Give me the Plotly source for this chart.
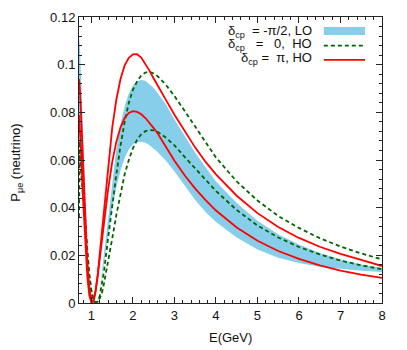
import plotly.graph_objects as go

# Energy grid (GeV)
E = [0.7, 0.72, 0.75, 0.8, 0.85, 0.9, 0.95, 1.0, 1.05, 1.1, 1.15, 1.2, 1.25, 1.3, 1.4, 1.5,
     1.6, 1.7, 1.8, 1.9, 2.0, 2.1, 2.2, 2.3, 2.4, 2.5, 2.6, 2.8, 3.0, 3.25, 3.5, 3.75,
     4.0, 4.5, 5.0, 5.5, 6.0, 6.5, 7.0, 7.5, 8.0]

# delta_cp = -pi/2, LO : band upper / lower edges
band_hi = [0.112, 0.108, 0.094, 0.068, 0.044, 0.024, 0.010, 0.003, 0.0005, 0.0, 0.0017, 0.0064, 0.013, 0.0202, 0.0364, 0.0517,
           0.0647, 0.0751, 0.0826, 0.0879, 0.0913, 0.0931, 0.0936, 0.0932, 0.0918, 0.0902, 0.0880, 0.0832, 0.0770, 0.0700, 0.0630, 0.0570,
           0.0510, 0.0420, 0.0345, 0.0288, 0.0245, 0.0210, 0.0183, 0.0162, 0.0147]
band_lo = [0.080, 0.076, 0.064, 0.045, 0.028, 0.014, 0.005, 0.001, 0.0, 0.0001, 0.002, 0.0059, 0.011, 0.0166, 0.0284, 0.0396,
           0.0486, 0.0556, 0.0609, 0.0644, 0.0665, 0.0675, 0.0677, 0.0672, 0.0662, 0.0648, 0.0632, 0.0596, 0.0552, 0.0492, 0.0432, 0.0382,
           0.0340, 0.0275, 0.0225, 0.0190, 0.0168, 0.0152, 0.0142, 0.0135, 0.0130]

# delta_cp = 0, HO : two dashed curves
green_hi = [0.036, 0.068, 0.062, 0.048, 0.034, 0.022, 0.012, 0.005, 0.0015, 0.0003, 0.0005, 0.003, 0.008, 0.013, 0.027, 0.041,
            0.054, 0.066, 0.076, 0.084, 0.0895, 0.0930, 0.0955, 0.0967, 0.0970, 0.0963, 0.0951, 0.0914, 0.0868, 0.0805, 0.0741, 0.0672,
            0.0610, 0.0510, 0.0430, 0.0365, 0.0315, 0.0272, 0.0237, 0.0208, 0.0183]
green_lo = [0.062, 0.060, 0.055, 0.043, 0.031, 0.020, 0.011, 0.0045, 0.0012, 0.0001, 0.0005, 0.002, 0.004, 0.008, 0.017, 0.027,
            0.037, 0.046, 0.054, 0.060, 0.065, 0.0685, 0.0708, 0.0721, 0.0726, 0.0724, 0.0717, 0.0693, 0.0661, 0.0612, 0.0565, 0.0518,
            0.0470, 0.0390, 0.0325, 0.0275, 0.0235, 0.0204, 0.0178, 0.0158, 0.0142]

# delta_cp = pi, HO : two solid curves
red_hi = [0.094, 0.090, 0.079, 0.057, 0.035, 0.017, 0.006, 0.0006, 0.0006, 0.0048, 0.0117, 0.0204, 0.030, 0.0397, 0.0581, 0.0735,
          0.0854, 0.0940, 0.0997, 0.1029, 0.1043, 0.1044, 0.1030, 0.1004, 0.0974, 0.0942, 0.0910, 0.0850, 0.0790, 0.0720, 0.0652, 0.0592,
          0.0540, 0.0450, 0.0377, 0.0319, 0.0273, 0.0236, 0.0206, 0.0181, 0.0155]
red_lo = [0.079, 0.074, 0.063, 0.043, 0.0246, 0.0111, 0.003, 0.0001, 0.0012, 0.0054, 0.0114, 0.0185, 0.026, 0.0336, 0.0475, 0.0591,
          0.0677, 0.0737, 0.0776, 0.0797, 0.0805, 0.0802, 0.0792, 0.0776, 0.0756, 0.0734, 0.0710, 0.0652, 0.0597, 0.0535, 0.0480, 0.0432,
          0.0388, 0.0317, 0.0261, 0.0218, 0.0185, 0.0158, 0.0136, 0.0119, 0.0105]

x_ticks = [1, 2, 3, 4, 5, 6, 7, 8]
y_ticks = [0, 0.02, 0.04, 0.06, 0.08, 0.1, 0.12]
y_tick_text = ["0", "0.02", "0.04", "0.06", "0.08", "0.1", "0.12"]

BLUE = "#87CEEB"
GREEN = "#006400"
RED = "#FF0000"
FONT = "Liberation Sans, Arial, Helvetica, sans-serif"

fig = go.Figure()
fig.add_trace(go.Scatter(x=E, y=band_lo, mode="lines", line=dict(width=0, color=BLUE),
                         showlegend=False, hoverinfo="skip"))
fig.add_trace(go.Scatter(x=E, y=band_hi, mode="lines", line=dict(width=0, color=BLUE),
                         fill="tonexty", fillcolor=BLUE, showlegend=False))
for ys in (green_hi, green_lo):
    fig.add_trace(go.Scatter(x=E, y=ys, mode="lines",
                             line=dict(color=GREEN, width=1.8, dash="4px,3px"), showlegend=False))
for ys in (red_hi, red_lo):
    fig.add_trace(go.Scatter(x=E, y=ys, mode="lines",
                             line=dict(color=RED, width=1.8), showlegend=False))

axis_common = dict(showline=True, linecolor="#222222", linewidth=1, mirror="allticks",
                   ticks="inside", tickcolor="#222222", ticklen=6, tickwidth=1,
                   showgrid=False, zeroline=False, automargin=False,
                   tickfont=dict(family=FONT, size=13, color="#111111"))

fig.update_xaxes(range=[0.7, 8], tickvals=x_ticks,
                 minor=dict(dtick=0.2, tick0=0, ticks="inside", ticklen=3, tickcolor="#222222", showgrid=False),
                 **axis_common)
fig.update_yaxes(range=[0, 0.12], tickvals=y_ticks, ticktext=y_tick_text,
                 minor=dict(dtick=0.004, tick0=0, ticks="inside", ticklen=3, tickcolor="#222222", showgrid=False),
                 **axis_common)

# axis titles
title_font = dict(family=FONT, size=13, color="#111111")
fig.add_annotation(xref="paper", yref="paper", x=0.5, y=-0.122, xanchor="center", yanchor="middle",
                   text="E(GeV)", showarrow=False, font=title_font)
fig.add_annotation(xref="paper", yref="paper", x=-0.205, y=0.49, xanchor="center", yanchor="middle",
                   text="P<sub>μe</sub> (neutrino)", textangle=-90, showarrow=False, font=title_font)

# legend (gnuplot style: text right-aligned, sample on the right)
leg_font = dict(family=FONT, size=13, color="#111111")
fig.add_annotation(xref="paper", yref="paper", x=0.777, y=0.95, xanchor="right", yanchor="middle",
                   text="δ<sub>cp</sub>  = -π/2, LO", showarrow=False, font=leg_font)
fig.add_annotation(xref="paper", yref="paper", x=0.777, y=0.905, xanchor="right", yanchor="middle",
                   text="δ<sub>cp</sub>   =   0,  HO", showarrow=False, font=leg_font)
fig.add_annotation(xref="paper", yref="paper", x=0.777, y=0.855, xanchor="right", yanchor="middle",
                   text="δ<sub>cp</sub> =  π, HO", showarrow=False, font=leg_font)
fig.add_shape(type="rect", xref="paper", yref="paper", x0=0.808, x1=0.944, y0=0.937, y1=0.965,
              fillcolor=BLUE, line=dict(width=0))
fig.add_shape(type="line", xref="paper", yref="paper", x0=0.808, x1=0.944, y0=0.9, y1=0.9,
              line=dict(color=GREEN, width=1.8, dash="4px,3px"))
fig.add_shape(type="line", xref="paper", yref="paper", x0=0.808, x1=0.944, y0=0.85, y1=0.85,
              line=dict(color=RED, width=1.8))

fig.update_layout(width=407, height=350, margin=dict(l=79, r=25, t=17, b=47),
                  paper_bgcolor="white", plot_bgcolor="white", showlegend=False,
                  font=dict(family=FONT, size=13, color="#111111"))

fig.write_html("out.html", config={"displayModeBar": False},
               post_script="document.body.style.margin='0px';")
